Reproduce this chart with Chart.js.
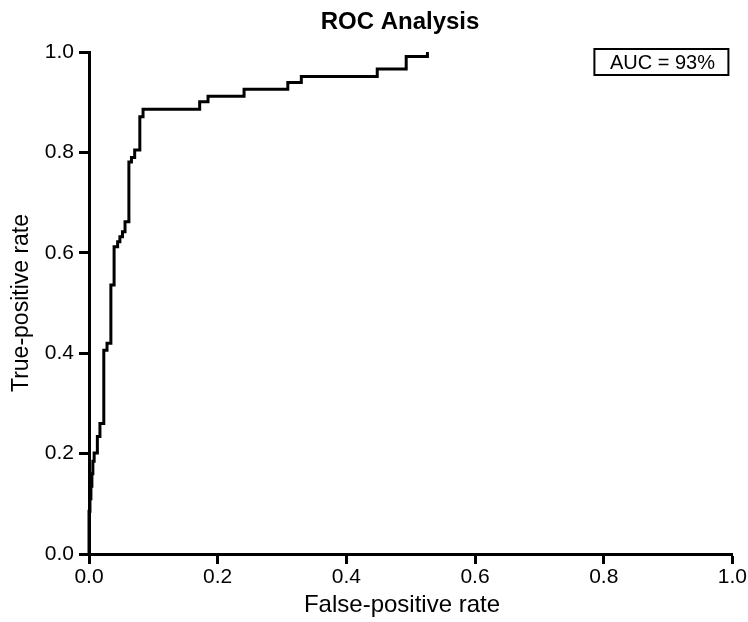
<!DOCTYPE html>
<html>
<head>
<meta charset="utf-8">
<script src="https://cdn.jsdelivr.net/npm/chart.js@4.4.1/dist/chart.umd.min.js"></script>
<style>
	html, body { margin: 0; padding: 0; background: #fff; }
	#wrap { width: 748px; height: 622px; }
</style>
</head>
<body>
<div id="wrap"><canvas id="rocChart" width="748" height="622"></canvas></div>
<script>
// ROC curve vertices (step-before)
var fpr = [0, 0, 0.0015, 0.003, 0.0045, 0.006, 0.008, 0.013, 0.017, 0.023, 0.028, 0.034, 0.039, 0.0445, 0.048, 0.052, 0.056, 0.062, 0.066, 0.071, 0.079, 0.084, 0.172, 0.185, 0.241, 0.309, 0.330, 0.448, 0.493, 0.526];
var tpr = [0, 0.085, 0.11, 0.135, 0.16, 0.185, 0.201, 0.234, 0.260, 0.406, 0.420, 0.536, 0.612, 0.622, 0.632, 0.642, 0.662, 0.781, 0.790, 0.805, 0.871, 0.886, 0.901, 0.912, 0.926, 0.939, 0.951, 0.966, 0.991, 1.0];

var xTicks = [0, 0.2, 0.4, 0.6, 0.8, 1.0];
var yTicks = [0, 0.2, 0.4, 0.6, 0.8, 1.0];

var chartTitle = "ROC Analysis";
var xTitle = "False-positive rate";
var yTitle = "True-positive rate";
var aucLabel = "AUC = 93%";

var FONT = '"Liberation Sans", Arial, Helvetica, sans-serif';

$points = fpr.map(function (x, i) { return { x: x, y: tpr[i] }; });

// title, x-axis title and the AUC box
var textPlugin = {
	id: 'rocText',
	afterDraw: function (chart) {
		var c = chart.ctx;
		var area = chart.chartArea;
		c.save();
		c.fillStyle = '#000';
		c.textAlign = 'center';
		c.textBaseline = 'middle';
		c.font = 'bold 24px ' + FONT;
		c.fillText(chartTitle, 400, 22);
		c.font = '24px ' + FONT;
		c.fillText(xTitle, 402, 605);

		c.lineWidth = 2;
		c.strokeStyle = '#000';
		c.strokeRect(area.right - 138, area.top - 3, 134, 26);
		c.font = '20px ' + FONT;
		c.fillText(aucLabel, area.right - 70, area.top + 11);
		c.restore();
	}
};

var axisCommon = {
	type: 'linear',
	min: 0,
	max: 1,
	border: { display: true, color: '#000', width: 3 },
	grid: { display: true, drawOnChartArea: false, drawTicks: true, tickLength: 10, tickWidth: 3, tickColor: '#000' },
};

var ctx = document.getElementById('rocChart').getContext('2d');
var rocChart = new Chart(ctx, {
	type: 'scatter',
	plugins: [textPlugin],
	data: {
		datasets: [{
			data: $points,
			showLine: true,
			stepped: 'before',
			borderColor: '#000',
			borderWidth: 3,
			pointRadius: 0,
			fill: false,
			clip: 6
		}]
	},
	options: {
		responsive: false,
		animation: false,
		devicePixelRatio: 1,
		layout: { padding: { top: 52, right: 15, left: 0, bottom: 0 } },
		plugins: {
			legend: { display: false },
			title: { display: false },
			tooltip: { enabled: false }
		},
		scales: {
			x: Object.assign({}, axisCommon, {
				position: 'bottom',
				afterBuildTicks: function (s) { s.ticks = xTicks.map(function (v) { return { value: v }; }); },
				afterFit: function (s) { s.height = 68; },
				ticks: {
					color: '#000', padding: 1, maxRotation: 0,
					font: { family: FONT, size: 21 },
					callback: function (v) { return Number(v).toFixed(1); }
				}
			}),
			y: Object.assign({}, axisCommon, {
				position: 'left',
				afterBuildTicks: function (s) { s.ticks = yTicks.map(function (v) { return { value: v }; }); },
				afterFit: function (s) { s.width = 89; },
				ticks: {
					color: '#000', padding: 5,
					font: { family: FONT, size: 21 },
					callback: function (v) { return Number(v).toFixed(1); }
				},
				title: {
					display: true,
					text: yTitle,
					color: '#000',
					font: { family: FONT, size: 23 },
					padding: { top: 8, bottom: 0 }
				}
			})
		}
	}
});
</script>
</body>
</html>
